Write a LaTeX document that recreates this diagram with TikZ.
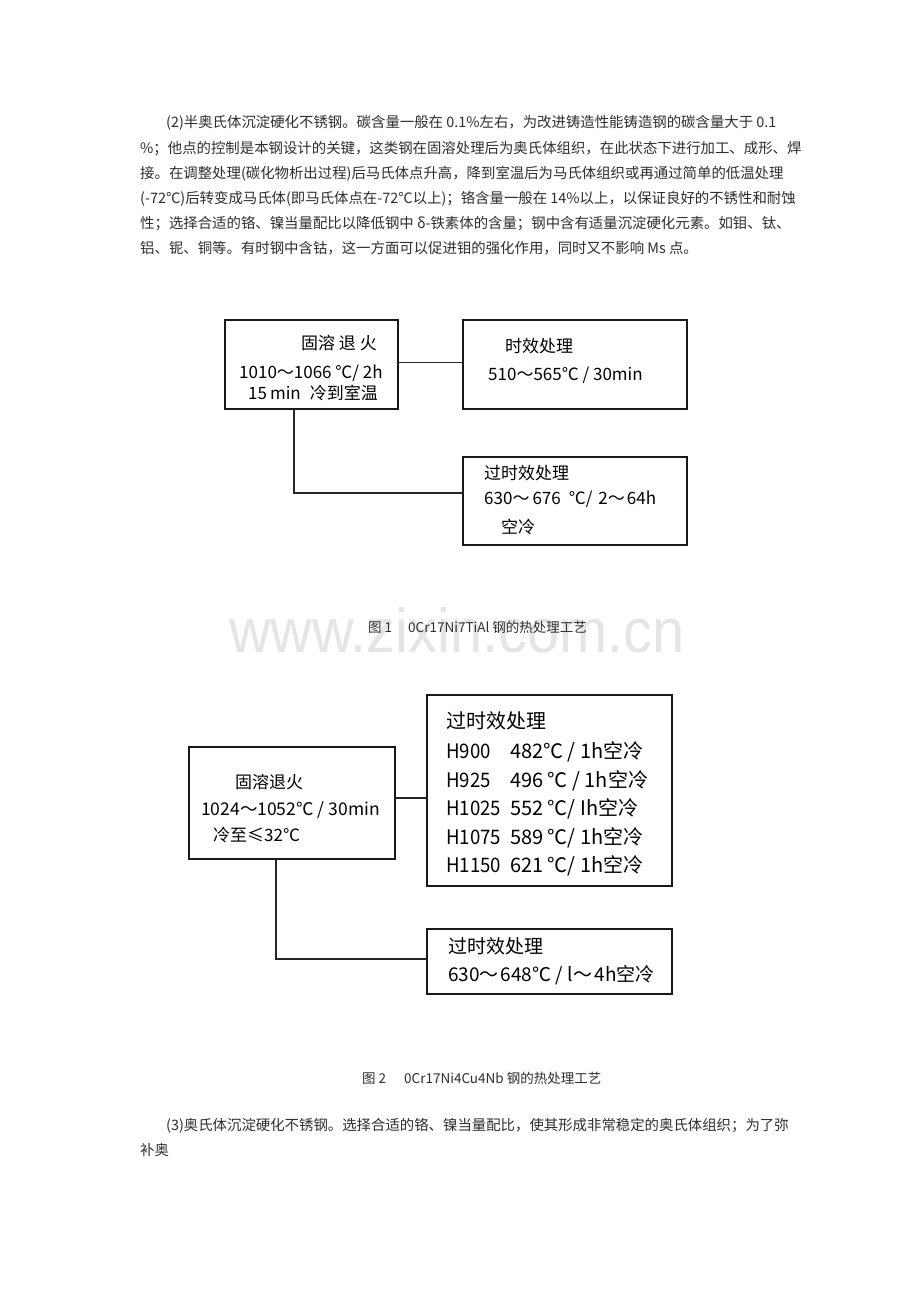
\documentclass[tikz,border=0pt]{standalone}
\usepackage{fontspec}
\setmainfont{Noto Sans CJK SC}
\newfontfamily\wmfont{Liberation Sans}
\tikzset{
  para/.style={anchor=base west, inner sep=0pt, text=black!82, font=\fontsize{14.4}{14.4}\selectfont},
  figcap/.style={anchor=base west, inner sep=0pt, text=black!82, font=\fontsize{13.5}{13.5}\selectfont},
  boxtext/.style={anchor=base west, inner sep=0pt, text=black, font=\fontsize{#1}{#1}\selectfont},
  boxtext/.default=17,
  procbox/.style={draw=black!90, line width=1.2pt, inner sep=0pt, outer sep=0pt, minimum width=#1},
  link/.style={draw=black!85, line width=1.4pt},
  wmark/.style={anchor=base west, inner sep=0pt, text=black!10, font=\wmfont\fontsize{62}{62}\selectfont}
}
\newcommand{\hcol}[1]{\makebox[64pt][l]{\scalebox{0.93}[1]{#1}}}
\begin{document}
\begin{tikzpicture}[x=1pt,y=-1pt]
\useasboundingbox[fill=white] (0,0) rectangle (920,1302);

% paragraph (2)
\node[para] (p1) at (166,127.5) {(2)半奥氏体沉淀硬化不锈钢。碳含量一般在 0.1\%左右，为改进铸造性能铸造钢的碳含量大于 0.1};
\node[para] (p2) at (140,153) {\%；他点的控制是本钢设计的关键，这类钢在固溶处理后为奥氏体组织，在此状态下进行加工、成形、焊};
\node[para] (p3) at (140,178) {接。在调整处理(碳化物析出过程)后马氏体点升高，降到室温后为马氏体组织或再通过简单的低温处理};
\node[para] (p4) at (140,203) {(-72℃)后转变成马氏体(即马氏体点在-72℃以上)；铬含量一般在 14\%以上，以保证良好的不锈性和耐蚀};
\node[para] (p5) at (140,228) {性；选择合适的铬、镍当量配比以降低钢中 δ-铁素体的含量；钢中含有适量沉淀硬化元素。如钼、钛、};
\node[para] (p6) at (140,253) {铝、铌、铜等。有时钢中含钴，这一方面可以促进钼的强化作用，同时又不影响 Ms 点。};

% figure 1 boxes
\node[procbox=173pt, minimum height=89pt] (A) at (311.5,364.5) {};
\node[procbox=224pt, minimum height=89pt] (B) at (575,364.5) {};
\node[procbox=224pt, minimum height=88pt] (C) at (575,501) {};
\draw[link] ([yshift=2pt]A.east) -- ([yshift=2pt]A.east -| B.west);
\draw[link] ([xshift=69pt]A.south west) |- ([yshift=8pt]C.west);

\node[boxtext] (a1) at (301,349.5) {固溶 退 火};
\node[boxtext] (a2) at (239,378.5) {1010～1066 ℃/ 2h};
\node[boxtext] (a3) at (248,399.5) {15\hspace{3pt}min\hspace{9pt}冷到室温};
\node[boxtext] (b1) at (505,352.5) {时效处理};
\node[boxtext] (b2) at (488,380.5) {510～565℃ / 30min};
\node[boxtext] (c1) at (484,479.5) {过时效处理};
\node[boxtext] (c2) at (484,504.5) {630～\hspace{3pt}676\hspace{8pt}℃/\hspace{6pt}2～\hspace{2pt}64h};
\node[boxtext] (c3) at (501,533.5) {空冷};

% watermark and caption 1
\node[wmark] (wm) at (229,652) {\scalebox{0.93}[1]{www.zixin.com.cn}};
\node[figcap] (cap1) at (368,632) {图 1\hspace{16pt}0Cr17Ni7TiAl 钢的热处理工艺};

% figure 2 boxes
\node[procbox=206pt, minimum height=112pt] (D) at (292,803) {};
\node[procbox=245pt, minimum height=191pt] (E) at (549.5,790.5) {};
\node[procbox=245pt, minimum height=65pt] (F) at (549.5,961.5) {};
\draw[link] ([yshift=5pt]D.east) -- ([yshift=5pt]D.east -| E.west);
\draw[link] ([xshift=87pt]D.south west) |- ([yshift=2.5pt]F.west);

\node[boxtext] (d1) at (235,788.5) {固溶退火};
\node[boxtext=17.5] (d2) at (201,815.5) {1024～1052℃ / 30min};
\node[boxtext] (d3) at (213,841.5) {冷至≤32℃};

\node[boxtext=20] (e1) at (446,728.6) {过时效处理};
\node[boxtext=20] (e2) at (446,758.5) {\hcol{H900}482℃ / 1h空冷};
\node[boxtext=20] (e3) at (446,787) {\hcol{H925}496 ℃ / 1h空冷};
\node[boxtext=20] (e4) at (446,815.5) {\hcol{H1025}552 ℃/ Ih空冷};
\node[boxtext=20] (e5) at (446,844) {\hcol{H1075}589 ℃/ 1h空冷};
\node[boxtext=20] (e6) at (446,872.5) {\hcol{H1150}621 ℃/ 1h空冷};

\node[boxtext=19] (f1) at (448,953.2) {过时效处理};
\node[boxtext=19] (f2) at (448,981.2) {630～\hspace{2pt}648℃ / l\hspace{1pt}～\hspace{2pt}4h空冷};

% caption 2
\node[figcap] (cap2) at (362,1083) {图 2\hspace{18pt}0Cr17Ni4Cu4Nb 钢的热处理工艺};

% paragraph (3)
\node[para] (q1) at (166,1130.5) {(3)奥氏体沉淀硬化不锈钢。选择合适的铬、镍当量配比，使其形成非常稳定的奥氏体组织；为了弥};
\node[para] (q2) at (140,1155.5) {补奥};
\end{tikzpicture}
\end{document}
